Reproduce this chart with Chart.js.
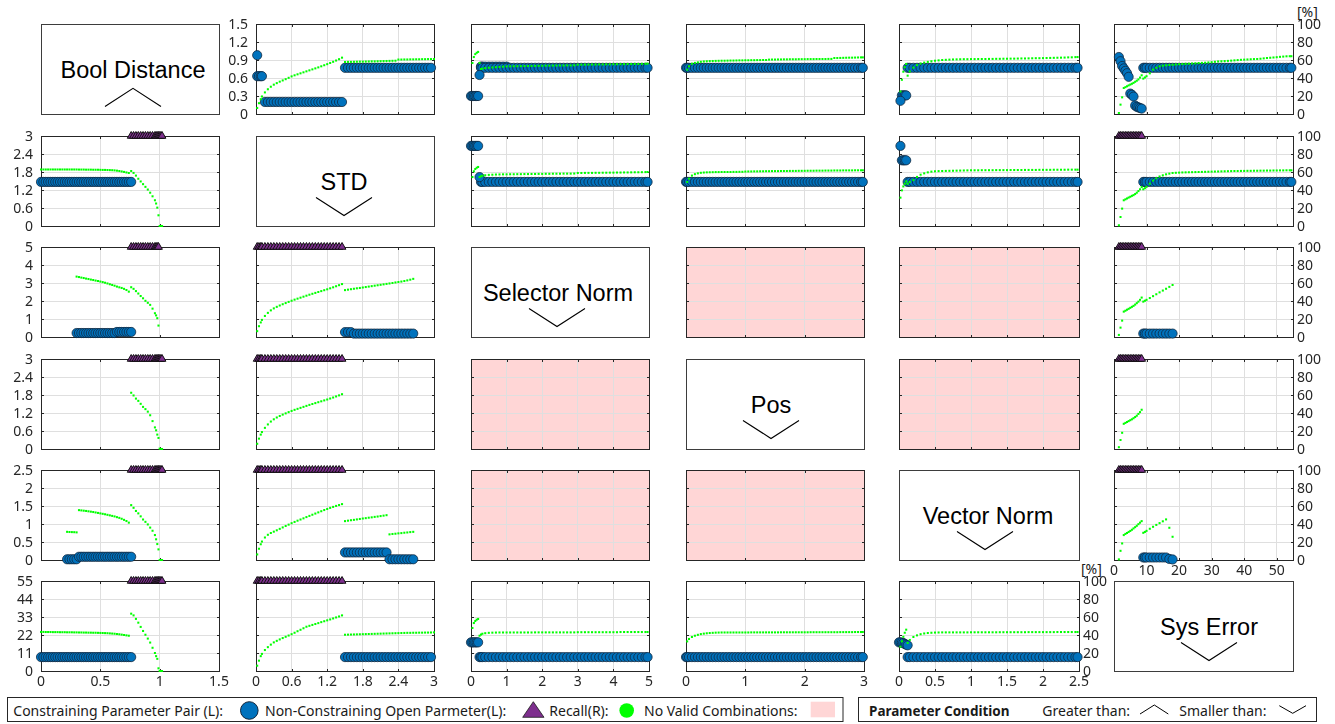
<!DOCTYPE html>
<html>
<head>
<meta charset="utf-8">
<title>Parameter pair recall matrix</title>
<script src="https://cdn.jsdelivr.net/npm/chart.js@4/dist/chart.umd.min.js"></script>
<style>
  html, body { margin: 0; padding: 0; background: #fff; }
  #stage { position: relative; width: 1335px; height: 724px; overflow: hidden; background: #fff; }
  #stage canvas { position: absolute; }
  #deco { position: absolute; left: 0; top: 0; }
</style>
</head>
<body>
<div id="stage"><svg id="deco" width="1335" height="724" xmlns="http://www.w3.org/2000/svg"></svg></div>
<script>
// ---------- parameters ----------
const params = ['Bool Distance', 'STD', 'Selector Norm', 'Pos', 'Vector Norm', 'Sys Error'];
const conditions = ['greater', 'smaller', 'smaller', 'smaller', 'smaller', 'smaller'];

// axis ranges and tick labels
const axisMax = [1.5, 3, 5, 3, 2.5, 55];
const xTickLabels = [
  [0, 0.5, 1, 1.5],
  [0, 0.6, 1.2, 1.8, 2.4, 3],
  [0, 1, 2, 3, 4, 5],
  [0, 1, 2, 3],
  [0, 0.5, 1, 1.5, 2, 2.5],
  [0, 10, 20, 30, 40, 50]
];
const yTickLabels = [
  [0, 0.3, 0.6, 0.9, 1.2, 1.5],
  [0, 0.6, 1.2, 1.8, 2.4, 3],
  [0, 1, 2, 3, 4, 5],
  [0, 0.6, 1.2, 1.8, 2.4, 3],
  [0, 0.5, 1, 1.5, 2, 2.5],
  [0, 11, 22, 33, 44, 55]
];
const recallTicks = [0, 20, 40, 60, 80, 100];

// ---------- tested parameter values (sweeps) ----------
const sweepBool = [0,0.02,0.04,0.06,0.08,0.1,0.12,0.14,0.16,0.18,0.2,0.22,0.24,0.26,0.28,0.3,0.32,0.34,0.36,0.38,0.4,0.42,0.44,0.46,0.48,0.5,0.52,0.54,0.56,0.58,0.6,0.62,0.64,0.66,0.68,0.7,0.72,0.74,0.76,0.78,0.8,0.82,0.84,0.86,0.88,0.9,0.92,0.94,0.96,0.97,0.98,0.99,1,1.01,1.02,1.03];
const sweepStd = [0.02,0.05,0.08,0.1,0.15,0.2,0.25,0.3,0.35,0.4,0.45,0.5,0.55,0.6,0.65,0.7,0.75,0.8,0.85,0.9,0.95,1,1.05,1.1,1.15,1.2,1.25,1.3,1.35,1.4,1.45,1.5,1.55,1.6,1.65,1.7,1.75,1.8,1.85,1.9,1.95,2,2.05,2.1,2.15,2.2,2.25,2.3,2.35,2.4,2.45,2.5,2.55,2.6,2.65,2.7,2.75,2.8,2.85,2.9,2.95,3];
const sweepSel = [0,0.04,0.08,0.12,0.16,0.2,0.24,0.28,0.32,0.4,0.5,0.6,0.7,0.8,0.9,1,1.1,1.2,1.3,1.4,1.5,1.6,1.7,1.8,1.9,2,2.1,2.2,2.3,2.4,2.5,2.6,2.7,2.8,2.9,3,3.1,3.2,3.3,3.4,3.5,3.6,3.7,3.8,3.9,4,4.1,4.2,4.3,4.4,4.5,4.6,4.7,4.8,4.9,4.96];
const sweepPos = [0,0.02,0.05,0.1,0.15,0.2,0.25,0.3,0.35,0.4,0.45,0.5,0.55,0.6,0.65,0.7,0.75,0.8,0.85,0.9,0.95,1,1.05,1.1,1.15,1.2,1.25,1.3,1.35,1.4,1.45,1.5,1.55,1.6,1.65,1.7,1.75,1.8,1.85,1.9,1.95,2,2.05,2.1,2.15,2.2,2.25,2.3,2.35,2.4,2.45,2.5,2.55,2.6,2.65,2.7,2.75,2.8,2.85,2.9,2.95,2.98];
const sweepVec = [0,0.02,0.04,0.06,0.08,0.1,0.12,0.15,0.2,0.25,0.3,0.35,0.4,0.45,0.5,0.55,0.6,0.65,0.7,0.75,0.8,0.85,0.9,0.95,1,1.05,1.1,1.15,1.2,1.25,1.3,1.35,1.4,1.45,1.5,1.55,1.6,1.65,1.7,1.75,1.8,1.85,1.9,1.95,2,2.05,2.1,2.15,2.2,2.25,2.3,2.35,2.4,2.45,2.48];
const sweepSys = [1.5,2,2.5,3,3.5,4,4.5,5,5.5,6,6.5,7,7.5,8,8.5,9,9.5,10,11,12,13,14,15,16,17,18,19,20,21,22,23,24,25,26,27,28,29,30,31,32,33,34,35,36,37,38,39,40,41,42,43,44,45,46,47,48,49,50,51,52,53,54,54.5];
const sweeps = [sweepBool, sweepStd, sweepSel, sweepPos, sweepVec, sweepSys];

// ---------- recall [%] per pair (row param , column param), consecutive sweep values from "from" ----------
const recall_1_2 = {from: 0.02, r: [6.7,12,16.5,19.5,24,27.5,30.3,32.6,34.3,35.9,37.3,38.7,40.2,41.8,43,44.1,45.2,46.3,47.4,48.5,49.6,50.7,51.8,53,54.2,55.4,56.7,58,59.4,60.9,62.6,57.8,57.9,57.9,58,58.1,58.2,58.2,58.3,58.4,58.5,58.5,58.6,58.7,58.8,58.9,59,59.1,59.2,60.5,60.5,60.6,60.6,60.7,60.7,60.8,60.8,60.9,60.9,61,61,61.1]};
const recall_1_3 = {from: 0.04, r: [56.7,63.3,66.5,68,69,56.7,50,50.4,51,51.4,51.7,52,52.3,52.6,52.9,53,53.1,53.1,53.2,53.3,53.3,53.4,53.5,53.5,53.6,53.7,53.7,53.8,53.8,53.9,53.9,54,54,54.1,54.8,54.8,54.9,54.9,55,55,55.1,55.1,55.2,55.2,55.3,55.3,55.4,55.4,55.5,55.5,55.6,55.6,55.7,55.8,55.9]};
const recall_1_4 = {from: 0.02, r: [49.3,53,55.8,56.8,57.4,58,58.4,58.6,58.8,58.9,59,59.1,59.2,59.2,59.3,59.4,59.4,59.5,59.6,59.6,59.7,59.7,59.8,59.8,59.9,59.9,60,60,60.4,60.5,60.5,60.6,60.6,60.7,60.7,60.8,60.8,60.8,60.9,60.9,60.9,61,61,61,61.1,61.1,61.1,61.1,61.2,61.2,62.2,62.2,62.3,62.4,62.5,62.6,62.6,62.7,62.8,62.9,62.9]};
const recall_1_5 = {from: 0.02, r: [25,38,47,52,55.6,42.6,47.3,51.5,54.3,56,57.1,57.9,58.6,59.2,59.6,60,60.2,60.4,60.6,60.7,60.8,60.9,60.9,61,61,61.1,61.1,61.1,61.2,61.2,61.3,61.3,61.4,61.4,61.5,61.5,61.6,61.7,61.7,61.8,61.9,62,62,62.1,62.2,62.3,62.4,62.5,62.6,62.7,62.9,63,63.2,63.3]};
const recall_1_6 = {from: 1.5, r: [1.1,10.4,18.5,28.9,29.8,30.8,31.8,32.7,33.6,34.6,35.8,37,38.4,40.5,43,39.3,40.6,42,45.2,49.3,51.4,53,53.7,54.1,54.4,54.7,55,55.3,55.5,55.7,55.9,56.1,56.3,56.6,56.8,57,57.3,57.6,58,58.4,58.6,58.8,59,59.3,59.6,59.9,60.2,60.4,60.6,60.8,61,61.1,61.4,61.8,62.2,62.5,62.8,63.1,63.5,63.8,64.1,64.2,64.2]};

const recall_2_1 = {from: 0, r: [62.8,62.8,62.8,62.8,62.8,62.8,62.8,62.8,62.8,62.8,62.8,62.8,62.8,62.8,62.8,62.8,62.7,62.7,62.7,62.6,62.6,62.6,62.5,62.5,62.5,62.4,62.3,62.3,62.2,62.1,62,61.8,61.5,61.1,60.6,60.1,59.5,58.9,61.1,59,56,52.5,49.5,46.5,43.5,40.5,37,33,28.6,25,20.4,11.9,0,0,0]};
const recall_2_3 = {from: 0.04, r: [54.4,60.8,63.3,64.7,65.6,54.4,55.3,55.8,56.4,56.8,57,57.2,57.3,57.4,57.4,57.5,57.5,57.6,57.6,57.7,57.7,57.8,57.8,57.9,57.9,58,58,58.1,58.1,58.1,58.2,58.2,58.2,58.3,58.9,58.9,59,59,59,59.1,59.1,59.2,59.2,59.3,59.3,59.4,59.4,59.5,59.5,59.6,59.7,59.7,59.8,59.9,60]};
const recall_2_4 = {from: 0.02, r: [48.9,52.6,56,57.6,58.5,59.1,59.4,59.6,59.7,59.8,59.9,59.9,60,60,60,60,60.1,60.1,60.2,60.2,60.5,60.6,60.6,60.7,60.7,60.8,60.8,60.9,60.9,61,61,61,61.1,61.1,61.1,61.2,61.2,61.2,61.3,61.3,61.3,61.4,61.4,61.4,61.5,61.5,61.5,61.6,61.6,61.6,61.7,61.7,61.7,61.8,61.8,61.8,61.8,61.9,61.9,61.9,61.9]};
const recall_2_5 = {from: 0.02, r: [31.5,39.6,44,47,49.6,47,49,51,54.5,57,58.5,59.6,60.4,60.8,61,61.1,61.2,61.3,61.4,61.5,61.6,61.7,61.8,61.9,61.9,61.9,62,62,62,62,62.1,62.1,62.1,62.1,62.2,62.2,62.2,62.2,62.3,62.3,62.3,62.3,62.4,62.4,62.4,62.4,62.5,62.5,62.5,62.5,62.6,62.6,62.6,62.6]};
const recall_2_6 = {from: 1.5, r: [0.8,10,19.3,28.6,29.6,30.6,31.6,32.5,33.5,34.3,35.5,37,38.8,40.8,43.3,40.8,42,43.5,47,50.5,53,55,56.3,57.4,58.2,58.9,59.1,59.3,59.5,59.6,59.7,59.8,59.9,60,60.1,60.2,60.3,60.4,60.5,60.6,60.7,60.8,60.9,61,61.1,61.1,61.2,61.2,61.3,61.3,61.4,61.4,61.5,61.5,61.6,61.6,61.7,61.7,61.8,61.8,61.9,61.9,61.9]};

const recall_3_1 = {from: 0.3, r: [67.1,66.6,66,65.5,64.9,64.4,63.8,63.3,62.7,62.2,61.6,61,60.3,59.5,58.6,57.8,57,56,55.2,54.5,53.5,52.2,50.4,55.3,53.5,51,48.3,45.5,43,40.2,38,35.7,31.5,26.4,24,20.9,12.7]};
const recall_3_2 = {from: 0.02, r: [6.5,12,16.2,19,23.4,26.8,29.6,31.8,33.5,35,36.4,37.7,39,40.3,41.5,42.6,43.7,44.8,45.9,47,48,49,50,51,52,53,54.1,55.2,56.4,57.6,58.8,52.1,52.6,53.1,53.6,54.1,54.5,55,55.5,56,56.5,57,57.5,58,58.5,59,59.5,60,60.6,61.1,61.6,62.2,62.9,63.7,64.6]};
const recall_3_6 = {from: 1.5, r: [2.3,10.4,18.2,28.2,29.2,30.3,31.3,32.4,33.5,34.6,36,37.6,39.3,41.3,43.8,39.3,40.3,41.3,43.3,45.4,47.5,49.6,51.6,53.6,55.7,57.8]};

const recall_4_1 = {from: 0.76, r: [62.5,59.5,56,53.5,50.2,46.8,44.3,41.5,37.5,31,24,20.8,16,12.3,0.4,0,0]};
const recall_4_2 = {from: 0.02, r: [5.8,11.5,16,18.8,23.5,27.3,30.5,33,35,36.7,38.2,39.6,41,42.3,43.5,44.6,45.7,46.8,47.9,49,50,51,52,53,54,55,56.1,57.2,58.4,59.6,60.9]};
const recall_4_6 = {from: 1.5, r: [2,10,18,28,29,30,31,32,33,34.2,35.5,37,39,41,43.6]};

const recall_5_1 = {from: 0.22, r: [31.3,31.1,31,30.9,30.7,55.4,55.1,54.8,54.5,54.1,53.7,53.3,52.8,52.3,51.8,51.3,50.8,50.2,49.6,49,48.4,47.6,46.8,45.8,44.6,43.3,41.5,61,58,54.5,51.8,48.5,45,42.4,39.5,36,32.5,27.7,23,17.7,11.8,0,0,0]};
const recall_5_2 = {from: 0.02, r: [6.2,12.5,17.5,20.5,25,28,30,31.5,33,34.6,36.2,37.8,39.3,40.9,42.3,43.7,45,46.3,47.7,49,50.3,51.6,52.9,54.2,55.5,56.7,57.9,59,60.1,61.1,62.1,43.2,43.7,44.2,44.6,45.1,45.6,46.1,46.5,47,47.4,47.9,48.3,48.8,49.3,49.8,28.5,28.9,29.2,29.6,29.9,30.3,30.6,31,31.3]};
const recall_5_6 = {from: 1.5, r: [0.7,10.2,18.4,27.7,29,30,31.2,32.3,33.6,35.1,36.5,38,39.8,41.5,43.2,30.2,31.2,32.4,34.7,36.9,39,41,43,45.1,35.8,25.8]};

const recall_6_1 = {from: 0, r: [43.4,43.4,43.3,43.3,43.3,43.2,43.2,43.2,43.1,43.1,43.1,43,43,43,42.9,42.9,42.8,42.8,42.7,42.7,42.6,42.6,42.5,42.5,42.4,42.3,42.2,42.1,42,41.8,41.6,41.4,41.1,40.8,40.4,40,39.6,39.2,63.7,61.8,57.9,53.7,49,44.5,40.3,36,31.6,25.8,20,16.5,13.5,3,0,0,0]};
const recall_6_2 = {from: 0.02, r: [5.9,11.5,16.5,19,23.3,26.5,29.3,31.8,33.5,35.1,36.6,38,39.4,40.9,42.5,44.2,45.8,47.5,49.2,50.2,51.2,52.2,53.2,54.3,55.3,56.3,57.3,58.4,59.5,60.6,61.8,40.3,40.4,40.5,40.6,40.7,40.8,40.9,41,41.1,41.2,41.3,41.4,41.5,41.6,41.7,41.8,41.9,42,42.1,42.2,42.3,42.4,42.4,42.5,42.5,42.6,42.6,42.7,42.7,42.8,42.9]};
const recall_6_3 = {from: 0.04, r: [47.8,53.3,55.5,57,57.8,39.2,40.5,41.4,42,42.4,42.6,42.7,42.8,42.8,42.8,42.8,42.8,42.8,42.8,42.8,42.8,42.8,42.9,42.9,42.9,42.9,42.9,42.9,42.9,42.9,42.9,42.9,42.9,42.9,43.1,43.1,43.1,43.1,43.1,43.1,43.1,43.1,43.1,43.1,43.1,43.1,43.3,43.3,43.3,43.3,43.3,43.3,43.3,43.3,43.3]};
const recall_6_4 = {from: 0.02, r: [32.9,35.6,37.8,39.2,40.2,41,41.5,41.9,42.2,42.4,42.6,42.7,42.8,42.8,42.8,42.8,42.8,42.8,42.8,42.8,42.8,42.8,42.9,42.9,42.9,42.9,42.9,42.9,42.9,42.9,42.9,42.9,43,43,43,43,43,43,43,43,43,43,43.1,43.1,43.1,43.1,43.1,43.1,43.1,43.1,43.1,43.1,43.2,43.2,43.2,43.2,43.2,43.3,43.3,43.3,43.3]};
const recall_6_5 = {from: 0.02, r: [27,33,38,42.5,45.9,31.1,34.5,37.8,39.6,40.9,41.7,42.2,42.5,42.7,42.8,42.9,42.9,42.9,42.9,42.9,42.9,42.9,42.9,43,43,43,43,43,43,43,43,43.1,43.1,43.1,43.1,43.1,43.1,43.1,43.1,43.2,43.2,43.2,43.2,43.2,43.2,43.2,43.2,43.3,43.3,43.3,43.3,43.3,43.3,43.3]};

// ---------- constraining parameter pairs (left axis): single points and constant runs [value, fromSweep, toSweep] ----------
const pairs_1_2 = {pts: [[0.02, 0.98]], runs: [[0.63, 0.02, 0.1], [0.2, 0.15, 1.45], [0.77, 1.5, 2.95]]};
const pairs_1_3 = {pts: [[0.24, 0.65]], runs: [[0.3, 0, 0.2], [0.79, 0.28, 1], [0.77, 0.28, 4.96]]};
const pairs_1_4 = {pts: [], runs: [[0.77, 0, 2.98]]};
const pairs_1_5 = {pts: [[0.02, 0.22]], runs: [[0.31, 0.04, 0.1], [0.77, 0.12, 2.48]]};
const pairs_1_6 = {pts: [[1.5,0.95],[2,0.88],[2.5,0.8],[3,0.76],[3.5,0.72],[4,0.68],[4.5,0.62],[5,0.34],[5.5,0.32],[6,0.29],[6.5,0.14],[7,0.12],[7.5,0.11],[8,0.1],[8.5,0.09]], runs: [[0.77, 9, 54.5]]};
const pairs_2_1 = {pts: [], runs: [[1.47, 0, 0.76]]};
const pairs_2_3 = {pts: [[0.24, 1.63]], runs: [[2.67, 0, 0.2], [1.47, 0.28, 4.96]]};
const pairs_2_4 = {pts: [], runs: [[1.47, 0, 2.98]]};
const pairs_2_5 = {pts: [[0.02, 2.67]], runs: [[2.19, 0.04, 0.1], [1.47, 0.12, 2.48]]};
const pairs_2_6 = {pts: [], runs: [[1.47, 9, 54.5]]};
const pairs_3_1 = {pts: [], runs: [[0.22, 0.3, 0.62], [0.28, 0.64, 0.76]]};
const pairs_3_2 = {pts: [], runs: [[0.27, 1.5, 1.6], [0.19, 1.65, 2.65]]};
const pairs_3_6 = {pts: [], runs: [[0.19, 9, 18]]};
const pairs_5_1 = {pts: [], runs: [[0.02, 0.22, 0.3], [0.09, 0.32, 0.76]]};
const pairs_5_2 = {pts: [], runs: [[0.21, 1.5, 2.2], [0.02, 2.25, 2.65]]};
const pairs_5_6 = {pts: [[17, 0.03], [18, 0.015]], runs: [[0.07, 9, 16]]};
const pairs_6_1 = {pts: [], runs: [[8.5, 0, 0.76]]};
const pairs_6_2 = {pts: [], runs: [[8.5, 1.5, 2.95]]};
const pairs_6_3 = {pts: [], runs: [[17.5, 0, 0.2], [8.5, 0.24, 4.96]]};
const pairs_6_4 = {pts: [], runs: [[8.5, 0, 2.98]]};
const pairs_6_5 = {pts: [[0, 17.5], [0.02, 17.5], [0.04, 17.3], [0.06, 17.1], [0.08, 16.5], [0.1, 16.1], [0.12, 15.7]], runs: [[8.5, 0.12, 2.48]]};

// ---------- non-constraining open parameter: sweep range drawn at the top of the left axis ----------
const open_2_1 = [0.76, 1.02];
const open_3_1 = [0.76, 0.99];
const open_4_1 = [0.76, 1.02];
const open_5_1 = [0.76, 1.02];
const open_6_1 = [0.76, 1.02];
const open_3_2 = [0.02, 1.45];
const open_4_2 = [0.02, 1.45];
const open_5_2 = [0.02, 1.45];
const open_6_2 = [0.02, 1.45];
const open_2_6 = [1.5, 8.5];
const open_3_6 = [1.5, 8.5];
const open_4_6 = [1.5, 8.5];
const open_5_6 = [1.5, 8.5];

// pairs without any valid combination
const noValid = [[3, 4], [3, 5], [4, 3], [4, 5], [5, 3], [5, 4]];

const cells = {
  '1,2': {recall: recall_1_2, pairs: pairs_1_2},
  '1,3': {recall: recall_1_3, pairs: pairs_1_3},
  '1,4': {recall: recall_1_4, pairs: pairs_1_4},
  '1,5': {recall: recall_1_5, pairs: pairs_1_5},
  '1,6': {recall: recall_1_6, pairs: pairs_1_6},
  '2,1': {recall: recall_2_1, pairs: pairs_2_1, open: open_2_1},
  '2,3': {recall: recall_2_3, pairs: pairs_2_3},
  '2,4': {recall: recall_2_4, pairs: pairs_2_4},
  '2,5': {recall: recall_2_5, pairs: pairs_2_5},
  '2,6': {recall: recall_2_6, pairs: pairs_2_6, open: open_2_6},
  '3,1': {recall: recall_3_1, pairs: pairs_3_1, open: open_3_1},
  '3,2': {recall: recall_3_2, pairs: pairs_3_2, open: open_3_2},
  '3,6': {recall: recall_3_6, pairs: pairs_3_6, open: open_3_6},
  '4,1': {recall: recall_4_1, open: open_4_1},
  '4,2': {recall: recall_4_2, open: open_4_2},
  '4,6': {recall: recall_4_6, open: open_4_6},
  '5,1': {recall: recall_5_1, pairs: pairs_5_1, open: open_5_1},
  '5,2': {recall: recall_5_2, pairs: pairs_5_2, open: open_5_2},
  '5,6': {recall: recall_5_6, pairs: pairs_5_6, open: open_5_6},
  '6,1': {recall: recall_6_1, pairs: pairs_6_1, open: open_6_1},
  '6,2': {recall: recall_6_2, pairs: pairs_6_2, open: open_6_2},
  '6,3': {recall: recall_6_3, pairs: pairs_6_3},
  '6,4': {recall: recall_6_4, pairs: pairs_6_4},
  '6,5': {recall: recall_6_5, pairs: pairs_6_5}
};

// ---------- layout & style ----------
const colLeft = [41, 256, 471, 686, 899, 1114];
const colWidth = [178, 178, 178, 178, 180, 179];
const rowTop = [24, 136, 247, 359, 470, 581];
const rowHeight = 90;
const PAD_L = 45, PAD_R = 45, PAD_T = 22, PAD_B = 28;

const GRID = '#dfdfdf', AXIS = '#262626', TXT = '#262626';
const BLUE = '#0072BD', PURPLE = '#7E2F8E', GREEN = '#00FF00', PINK = '#FFD6D6';
const FONT = "'Noto Sans', 'Open Sans', sans-serif";
const LABEL_FONT = "'Liberation Sans', Arial, sans-serif";
const FS = 14;

Chart.defaults.font.family = FONT;
Chart.defaults.font.size = FS;
Chart.defaults.color = TXT;

const EPS = 1e-9;
const idxOf = (sweep, v) => sweep.findIndex(s => Math.abs(s - v) < EPS);
const inRange = (a, b) => s => s >= a - EPS && s <= b + EPS;

function recallPoints(sweep, rec) {
  const start = idxOf(sweep, rec.from);
  return rec.r.map((v, i) => ({x: sweep[start + i], y: v}));
}
function pairPoints(sweep, pairs) {
  const out = [];
  pairs.runs.forEach(([y, a, b]) => sweep.filter(inRange(a, b)).forEach(x => out.push({x, y})));
  pairs.pts.forEach(([x, y]) => out.push({x, y}));
  return out;
}

// axes box with inward tick marks, and the "no valid combination" fill
const cellFrame = {
  id: 'cellFrame',
  beforeDraw(chart, args, opts) {
    if (!opts.pink) return;
    const a = chart.chartArea, ctx = chart.ctx;
    ctx.save();
    ctx.fillStyle = PINK;
    ctx.fillRect(a.left, a.top, a.right - a.left, a.bottom - a.top);
    ctx.restore();
  },
  beforeDatasetsDraw(chart) {
    const a = chart.chartArea, ctx = chart.ctx;
    const L = Math.round(a.left) + 0.5, R = Math.round(a.right) + 0.5;
    const T = Math.round(a.top) + 0.5, B = Math.round(a.bottom) + 0.5;
    const tl = 2.5;
    ctx.save();
    ctx.strokeStyle = AXIS;
    ctx.lineWidth = 1;
    ctx.beginPath();
    chart.scales.x.ticks.forEach(t => {
      const px = Math.round(chart.scales.x.getPixelForValue(t.value)) + 0.5;
      ctx.moveTo(px, B); ctx.lineTo(px, B - tl);
      ctx.moveTo(px, T); ctx.lineTo(px, T + tl);
    });
    chart.scales.y.ticks.forEach(t => {
      const py = Math.round(chart.scales.y.getPixelForValue(t.value)) + 0.5;
      ctx.moveTo(L, py); ctx.lineTo(L + tl, py);
      ctx.moveTo(R, py); ctx.lineTo(R - tl, py);
    });
    ctx.stroke();
    ctx.strokeRect(L, T, R - L, B - T);
    ctx.restore();
  }
};

const stage = document.getElementById('stage');

for (let r = 0; r < 6; r++) {
  for (let c = 0; c < 6; c++) {
    if (r === c) continue;
    const cell = cells[(r + 1) + ',' + (c + 1)] || {};
    const sweep = sweeps[c];
    const pink = noValid.some(([a, b]) => a === r + 1 && b === c + 1);
    const showX = (r === 5) || (r === 4 && c === 5);
    const showY = (c === 0) || (r === 0 && c === 1);
    const showR = (c === 5) || (r === 5 && c === 4);

    const datasets = [];
    if (cell.recall) {
      datasets.push({
        label: 'Recall', yAxisID: 'y2', data: recallPoints(sweep, cell.recall),
        pointStyle: 'rect', pointRadius: 1.45, backgroundColor: GREEN, borderWidth: 0, clip: false
      });
    }
    if (cell.open) {
      datasets.push({
        label: 'Non-Constraining Open Parmeter', yAxisID: 'y',
        data: sweep.filter(inRange(cell.open[0], cell.open[1])).map(x => ({x, y: axisMax[r]})),
        pointStyle: 'triangle', pointRadius: 4.5, backgroundColor: PURPLE,
        borderColor: '#111', borderWidth: 1, clip: false
      });
    }
    if (cell.pairs) {
      datasets.push({
        label: 'Constraining Parameter Pair', yAxisID: 'y', data: pairPoints(sweep, cell.pairs),
        pointStyle: 'circle', pointRadius: 4.6, backgroundColor: BLUE,
        borderColor: '#10243a', borderWidth: 0.75, clip: false
      });
    }

    const w = colWidth[c] + PAD_L + PAD_R, h = rowHeight + PAD_T + PAD_B;
    const cv = document.createElement('canvas');
    cv.width = w; cv.height = h;
    cv.style.left = (colLeft[c] - PAD_L) + 'px';
    cv.style.top = (rowTop[r] - PAD_T) + 'px';
    cv.style.width = w + 'px'; cv.style.height = h + 'px';
    stage.appendChild(cv);

    const tickFont = {family: FONT, size: FS};
    new Chart(cv, {
      type: 'scatter',
      data: {datasets},
      plugins: [cellFrame],
      options: {
        responsive: false, animation: false, devicePixelRatio: 1, events: [],
        layout: {padding: {top: PAD_T, left: 0, right: 0, bottom: 0}, autoPadding: false},
        plugins: {legend: {display: false}, tooltip: {enabled: false}, cellFrame: {pink}},
        scales: {
          x: {
            type: 'linear', position: 'bottom', min: 0, max: axisMax[c],
            afterBuildTicks: s => { s.ticks = xTickLabels[c].map(v => ({value: v})); },
            afterFit: s => { s.height = PAD_B; },
            grid: {color: GRID, drawTicks: false, lineWidth: 1},
            border: {display: false},
            ticks: {display: showX, padding: 3, color: TXT, font: tickFont, maxRotation: 0, autoSkip: false, callback: v => String(v)}
          },
          y: {
            type: 'linear', position: 'left', min: 0, max: axisMax[r],
            afterBuildTicks: s => { s.ticks = yTickLabels[r].map(v => ({value: v})); },
            afterFit: s => { s.width = PAD_L; },
            grid: {color: GRID, drawTicks: false, lineWidth: 1},
            border: {display: false},
            ticks: {display: showY, padding: 8, labelOffset: 1.5, color: TXT, font: tickFont, autoSkip: false, callback: v => String(v)}
          },
          y2: {
            type: 'linear', position: 'right', min: 0, max: 100,
            afterBuildTicks: s => { s.ticks = recallTicks.map(v => ({value: v})); },
            afterFit: s => { s.width = PAD_R; },
            grid: {display: false, drawTicks: false},
            border: {display: false},
            ticks: {display: showR, padding: 4, labelOffset: 1.5, color: TXT, font: tickFont, autoSkip: false, callback: v => String(v)}
          }
        }
      }
    });
  }
}

// ---------- parameter name boxes, units and legends ----------
const deco = document.getElementById('deco');
const NS = 'http://www.w3.org/2000/svg';
function add(tag, attrs, text) {
  const e = document.createElementNS(NS, tag);
  for (const k in attrs) e.setAttribute(k, attrs[k]);
  if (text != null) e.textContent = text;
  deco.appendChild(e);
  return e;
}
const labelCx = [133, 344, 558, 771, 988, 1209];
const chevronCx = [133, 344, 557, 771, 985, 1209];
params.forEach((name, i) => {
  const x = colLeft[i], y = rowTop[i];
  add('rect', {x: x + 0.5, y: y + 0.5, width: colWidth[i], height: rowHeight, fill: '#fff', stroke: '#3d3d3d', 'stroke-width': 1});
  add('text', {x: labelCx[i], y: y + 53.5, 'text-anchor': 'middle', 'font-family': LABEL_FONT, 'font-size': 23.5, fill: '#000'}, name);
  const cx = chevronCx[i];
  const pts = conditions[i] === 'greater'
    ? [[cx - 28, y + 82.5], [cx, y + 64.3], [cx + 28, y + 82.5]]
    : [[cx - 28, y + 61.5], [cx, y + 79.5], [cx + 28, y + 61.5]];
  add('polyline', {points: pts.map(p => p.join(',')).join(' '), fill: 'none', stroke: '#000', 'stroke-width': 1.1});
});

const txt = (x, y, s, extra) => add('text', Object.assign({x, y, 'font-family': FONT, 'font-size': FS, fill: '#1a1a1a'}, extra || {}), s);
txt(1297, 17, '[%]');
txt(1081, 574, '[%]');

add('rect', {x: 7.5, y: 697.5, width: 835.5, height: 24, fill: '#fff', stroke: '#262626', 'stroke-width': 1});
txt(13.3, 715.5, 'Constraining Parameter Pair (L):');
add('circle', {cx: 249.3, cy: 710.5, r: 8.8, fill: BLUE, stroke: '#10243a', 'stroke-width': 1});
txt(265, 715.5, 'Non-Constraining Open Parmeter(L):');
add('polygon', {points: '522.7,717.3 533.3,701.7 544,717.3', fill: PURPLE, stroke: '#1a1a1a', 'stroke-width': 0.8});
txt(549.3, 715.5, 'Recall(R):');
add('circle', {cx: 626.7, cy: 710.5, r: 7.3, fill: GREEN});
txt(644, 715.5, 'No Valid Combinations:');
add('rect', {x: 810.7, y: 701.7, width: 24.3, height: 15.6, fill: PINK});

add('rect', {x: 858.5, y: 697.5, width: 458, height: 24, fill: '#fff', stroke: '#262626', 'stroke-width': 1});
txt(869, 715.5, 'Parameter Condition', {'font-weight': 'bold', 'font-size': 13.5});
txt(1042.3, 715.5, 'Greater than:');
add('polyline', {points: '1140,714 1154.3,705 1168.3,714', fill: 'none', stroke: '#000', 'stroke-width': 1});
txt(1179.3, 715.5, 'Smaller than:');
add('polyline', {points: '1279.3,705.7 1292.7,713.3 1306,705.7', fill: 'none', stroke: '#000', 'stroke-width': 1});
</script>
</body>
</html>
